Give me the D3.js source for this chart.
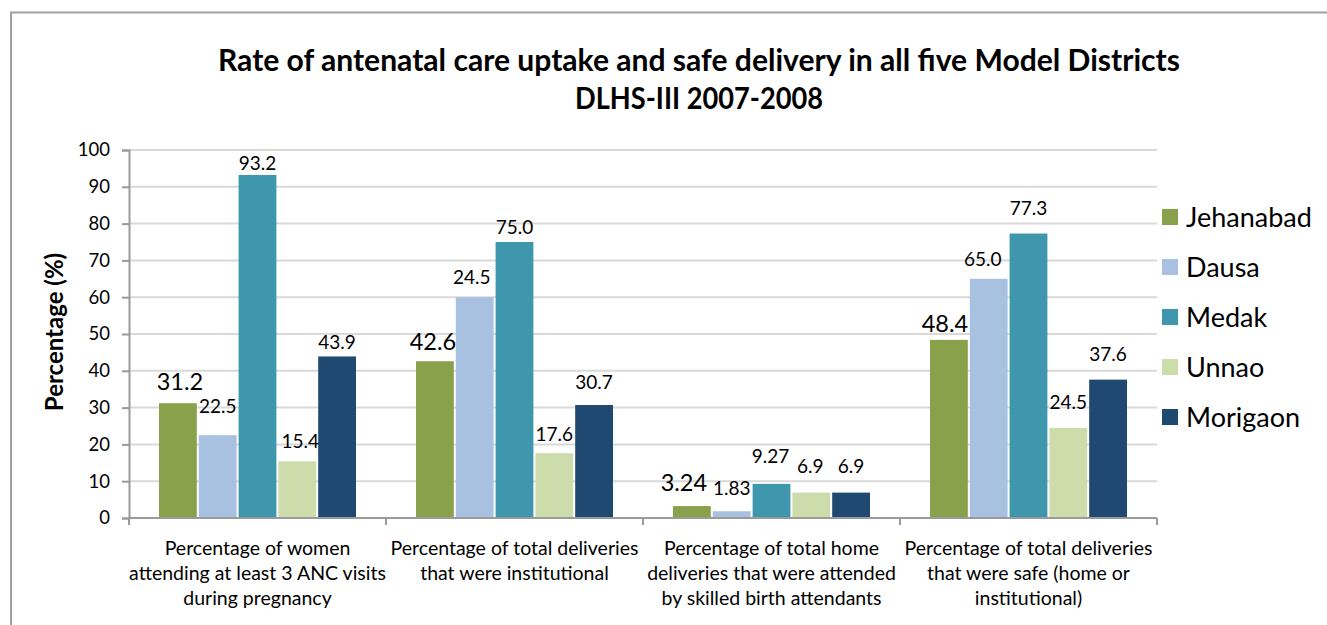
<!DOCTYPE html>
<html>
<head>
<meta charset="utf-8">
<script src="https://cdn.jsdelivr.net/npm/d3@7/dist/d3.min.js"></script>
<style>
  html, body { margin: 0; padding: 0; background: #fff; }
  svg { display: block; }
  text { font-family: Lato, "Open Sans", sans-serif; fill: #000; }
</style>
</head>
<body>
<svg id="chart" width="1327" height="625"></svg>
<script>
// ---- data ----
const categories = [
  ["Percentage of women", "attending at least 3 ANC visits", "during pregnancy"],
  ["Percentage of total deliveries", "that were institutional"],
  ["Percentage of total home", "deliveries that were attended", "by skilled birth attendants"],
  ["Percentage of total deliveries", "that were safe (home or", "institutional)"]
];
const series = ["Jehanabad", "Dausa", "Medak", "Unnao", "Morigaon"];
const jehanabad = [31.2, 42.6, 3.24, 48.4];
const dausa     = [22.5, 60.0, 1.83, 65.0];
const medak     = [93.2, 75.0, 9.27, 77.3];
const unnao     = [15.4, 17.6, 6.9, 24.5];
const morigaon  = [43.9, 30.7, 6.9, 37.6];
const jehanabadLabels = ["31.2", "42.6", "3.24", "48.4"];
const dausaLabels     = ["22.5", "24.5", "1.83", "65.0"];
const medakLabels     = ["93.2", "75.0", "9.27", "77.3"];
const unnaoLabels     = ["15.4", "17.6", "6.9", "24.5"];
const morigaonLabels  = ["43.9", "30.7", "6.9", "37.6"];
const yTicks = [0, 10, 20, 30, 40, 50, 60, 70, 80, 90, 100];
const titleLines = ["Rate of antenatal care uptake and safe delivery in all five Model Districts", "DLHS-III 2007-2008"];
const yAxisTitle = "Percentage (%)";

// ---- styles / layout ----
const colors = ["#8aa14b", "#a8c1e0", "#3e97ad", "#cddcab", "#1f4970"];
const values = [jehanabad, dausa, medak, unnao, morigaon];
const labels = [jehanabadLabels, dausaLabels, medakLabels, unnaoLabels, morigaonLabels];
// label gap above bar (px) and horizontal shift, per [series][category]
const labelGap = [
  [13, 11, 15, 8],
  [22, 13, 16, 13],
  [5, 8, 21, 19],
  [13, 12, 20, 19],
  [7, 16, 20, 19]
];
const labelDx = [
  [2, -2, -8, -4],
  [0, -3, 0, -6],
  [0, 0, -1, 0],
  [3, 0, -1, 0],
  [0, 0, 0, 0]
];

const svg = d3.select("#chart");
const plotLeft = 129, plotRight = 1157, plotTop = 150, plotBottom = 518;

// border
svg.append("path")
  .attr("d", "M11,625 L11,12.5 L1327,12.5")
  .attr("fill", "none").attr("stroke", "#a0a0a0").attr("stroke-width", 2);

const y = d3.scaleLinear().domain([0, 100]).range([plotBottom, plotTop]);
const x0 = d3.scaleBand().domain(d3.range(categories.length)).range([plotLeft, plotRight]).padding(0);
const x1 = d3.scaleBand().domain(series).range([30, x0.bandwidth() - 30]).paddingInner(0.05).paddingOuter(0);

// gridlines
svg.append("g").selectAll("line").data(yTicks.filter(d => d > 0)).join("line")
  .attr("x1", plotLeft).attr("x2", plotRight)
  .attr("y1", d => y(d)).attr("y2", d => y(d))
  .attr("stroke", "#d9d9d9").attr("stroke-width", 2);

// y axis
const yAxis = svg.append("g").attr("transform", `translate(${plotLeft},0)`)
  .call(d3.axisLeft(y).tickValues(yTicks).tickSize(7).tickPadding(12));
yAxis.select(".domain").attr("stroke", "#9a9a9a").attr("stroke-width", 2);
yAxis.selectAll(".tick line").attr("stroke", "#9a9a9a").attr("stroke-width", 2);
yAxis.selectAll(".tick text").attr("font-size", 18.5).attr("font-family", "Lato, sans-serif").attr("fill", "#000");

// bars
const groups = svg.append("g").selectAll("g").data(categories).join("g")
  .attr("transform", (d, i) => `translate(${x0(i)},0)`);
series.forEach((s, si) => {
  groups.append("rect")
    .attr("x", x1(s))
    .attr("width", x1.bandwidth())
    .attr("y", (d, ci) => y(values[si][ci]))
    .attr("height", (d, ci) => y(0) - y(values[si][ci]))
    .attr("fill", colors[si]);
});

// x axis
const xAxisG = svg.append("g").attr("transform", `translate(0,${plotBottom})`);
xAxisG.append("line").attr("x1", plotLeft).attr("x2", plotRight).attr("y1", 0).attr("y2", 0)
  .attr("stroke", "#9a9a9a").attr("stroke-width", 2);
xAxisG.selectAll("line.tk").data(d3.range(categories.length + 1)).join("line")
  .attr("class", "tk")
  .attr("x1", i => i < categories.length ? x0(i) : plotRight)
  .attr("x2", i => i < categories.length ? x0(i) : plotRight)
  .attr("y1", 0).attr("y2", 7)
  .attr("stroke", "#9a9a9a").attr("stroke-width", 2);

// category labels
categories.forEach((lines, ci) => {
  const cx = x0(ci) + x0.bandwidth() / 2;
  const t = svg.append("text")
    .attr("x", cx)
    .attr("y", 555)
    .attr("text-anchor", "middle")
    .attr("font-size", 19.5);
  lines.forEach((ln, li) => {
    t.append("tspan").attr("x", cx).attr("dy", li === 0 ? 0 : 25).text(ln);
  });
});

// data labels
series.forEach((s, si) => {
  categories.forEach((c, ci) => {
    svg.append("text")
      .attr("x", x0(ci) + x1(s) + x1.bandwidth() / 2 + labelDx[si][ci])
      .attr("y", y(values[si][ci]) - labelGap[si][ci])
      .attr("text-anchor", "middle")
      .attr("font-size", si === 0 ? 23.5 : 19)
      .text(labels[si][ci]);
  });
});

// title
svg.append("text").attr("x", 699).attr("y", 71).attr("text-anchor", "middle")
  .attr("font-size", 30).attr("font-weight", "bold")
  .attr("textLength", 962).attr("lengthAdjust", "spacingAndGlyphs")
  .text(titleLines[0]);
svg.append("text").attr("x", 699).attr("y", 109).attr("text-anchor", "middle")
  .attr("font-size", 30).attr("font-weight", "bold")
  .attr("textLength", 248).attr("lengthAdjust", "spacingAndGlyphs")
  .text(titleLines[1]);

// y axis title
svg.append("text").attr("transform", "translate(63,332) rotate(-90)")
  .attr("text-anchor", "middle").attr("font-size", 24).attr("font-weight", "bold")
  .text(yAxisTitle);

// legend
const lg = svg.append("g");
series.forEach((s, si) => {
  const cy = 217 + si * 50;
  lg.append("rect").attr("x", 1162).attr("y", cy - 8).attr("width", 16).attr("height", 16).attr("fill", colors[si]);
  lg.append("text").attr("x", 1186).attr("y", cy + 10).attr("font-size", 27).text(s);
});
</script>
</body>
</html>
